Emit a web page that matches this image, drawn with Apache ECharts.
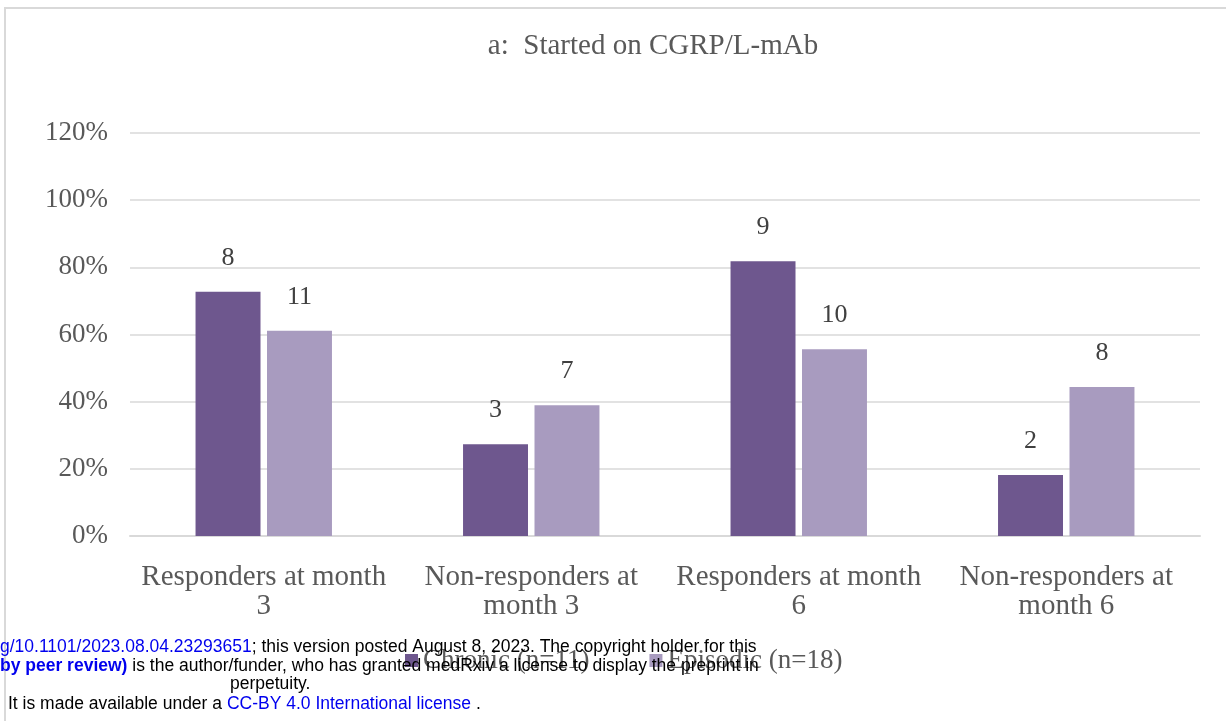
<!DOCTYPE html>
<html>
<head>
<meta charset="utf-8">
<script src="https://cdn.jsdelivr.net/npm/echarts@6/dist/echarts.min.js"></script>
<style>
  html, body { margin: 0; padding: 0; background: #fff; }
  #chart { width: 1226px; height: 721px; }
</style>
</head>
<body>
<div id="chart"></div>
<script>
const categories = ['Responders at month\n3', 'Non-responders at\nmonth 3', 'Responders at month\n6', 'Non-responders at\nmonth 6']
const chronicPct = [72.7, 27.3, 81.8, 18.2]
const chronicCount = [8, 3, 9, 2]
const episodicPct = [61.1, 38.9, 55.6, 44.4]
const episodicCount = [11, 7, 10, 8]
const yTicks = [0, 20, 40, 60, 80, 100, 120]

const serif = '"Liberation Serif", "DejaVu Serif", serif'
const sans = '"Liberation Sans", Arial, sans-serif'
const grey = '#595959'

let chart = echarts.init(document.getElementById('chart'))

const option = {
  backgroundColor: '#fff',
  animation: false,
  title: {
    text: 'a:  Started on CGRP/L-mAb',
    left: 648,
    top: 27,
    textAlign: 'center',
    textStyle: { fontFamily: serif, fontSize: 29, fontWeight: 'normal', color: grey }
  },
  legend: {
    left: 400,
    top: 642,
    itemWidth: 13,
    itemHeight: 13,
    itemGap: 60,
    icon: 'rect',
    textStyle: { fontFamily: serif, fontSize: 27, color: grey },
    data: ['Chronic (n=11)', 'Episodic (n=18)']
  },
  grid: { left: 130, right: 26, top: 133, bottom: 185 },
  xAxis: {
    type: 'category',
    data: categories,
    axisTick: { show: false },
    axisLine: { lineStyle: { color: '#d9d9d9', width: 2 } },
    axisLabel: { fontFamily: serif, fontSize: 29, color: grey, lineHeight: 29, margin: 27, interval: 0 }
  },
  yAxis: {
    type: 'value',
    min: yTicks[0],
    max: yTicks[yTicks.length - 1],
    interval: 20,
    axisLabel: { fontFamily: serif, fontSize: 27, color: grey, margin: 22, formatter: v => v + '%' },
    splitLine: { lineStyle: { color: '#d9d9d9', width: 1.5 } }
  },
  series: [
    {
      name: 'Chronic (n=11)',
      type: 'bar',
      data: chronicPct,
      barGap: '10%',
      barCategoryGap: '49%',
      itemStyle: { color: '#6e578e' },
      label: {
        show: true, position: 'top', distance: 21,
        fontFamily: serif, fontSize: 26, color: '#404040',
        formatter: p => chronicCount[p.dataIndex]
      }
    },
    {
      name: 'Episodic (n=18)',
      type: 'bar',
      data: episodicPct,
      itemStyle: { color: '#a89bbf' },
      label: {
        show: true, position: 'top', distance: 21,
        fontFamily: serif, fontSize: 26, color: '#404040',
        formatter: p => episodicCount[p.dataIndex]
      }
    }
  ],
  graphic: [
    {
      type: 'rect', silent: true, z: -1,
      shape: { x: 5, y: 8, width: 1240, height: 760 },
      style: { fill: 'none', stroke: '#d9d9d9', lineWidth: 2 }
    },
    {
      type: 'text', left: 0, top: 638, z: 100,
      style: {
        text: '{b|g/10.1101/2023.08.04.23293651}{k|; this version posted August 8, 2023. The copyright holder for this}',
        rich: {
          b: { fontFamily: sans, fontSize: 17.5, fill: '#0000ee' },
          k: { fontFamily: sans, fontSize: 17.5, fill: '#000' }
        }
      }
    },
    {
      type: 'text', left: 0, top: 657, z: 100,
      style: {
        text: '{b|by peer review)}{k| is the author/funder, who has granted medRxiv a license to display the preprint in}',
        rich: {
          b: { fontFamily: sans, fontSize: 17.5, fontWeight: 'bold', fill: '#0000ee' },
          k: { fontFamily: sans, fontSize: 17.5, fill: '#000' }
        }
      }
    },
    {
      type: 'text', left: 230, top: 675, z: 100,
      style: { text: 'perpetuity.', font: '17.5px "Liberation Sans", Arial, sans-serif', fill: '#000' }
    },
    {
      type: 'text', left: 8, top: 695, z: 100,
      style: {
        text: '{k|It is made available under a }{b|CC-BY 4.0 International license}{k| .}',
        rich: {
          b: { fontFamily: sans, fontSize: 17.5, fill: '#0000ee' },
          k: { fontFamily: sans, fontSize: 17.5, fill: '#000' }
        }
      }
    }
  ]
}

chart.setOption(option)
</script>
</body>
</html>
